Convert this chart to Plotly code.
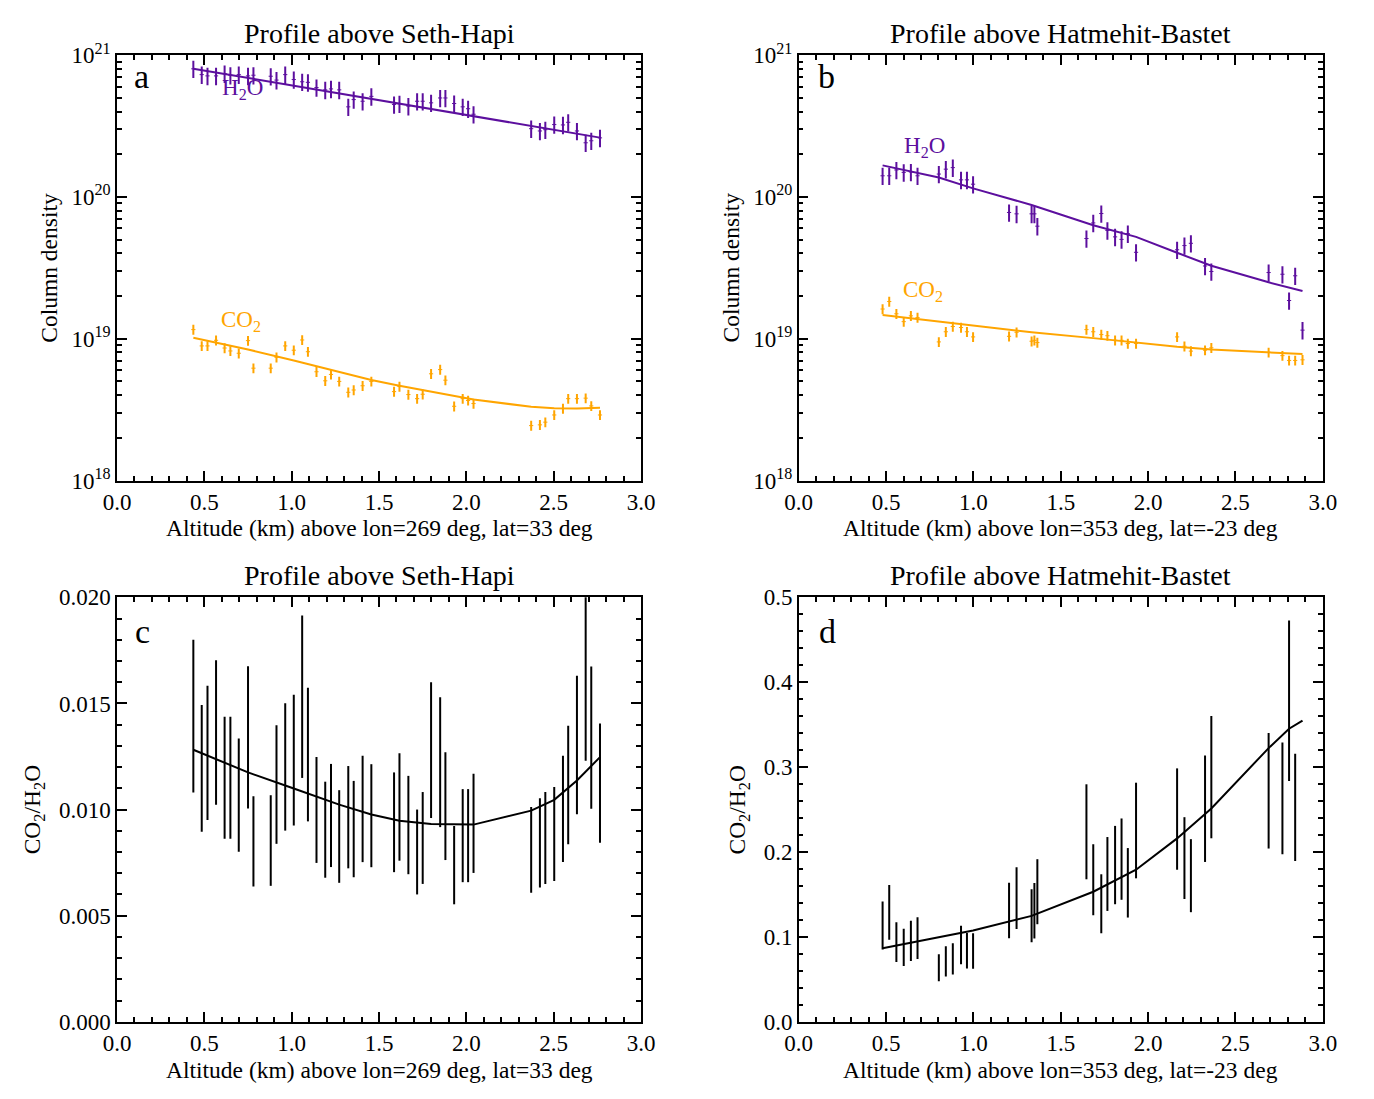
import plotly.graph_objects as go

# ---------------- data ----------------
# Panel a / c : Seth-Hapi profile
alt_a = [0.437, 0.485, 0.518, 0.567, 0.616, 0.649, 0.697, 0.750, 0.781, 0.880,
         0.913, 0.963, 1.012, 1.060, 1.093, 1.142, 1.192, 1.225, 1.272, 1.324,
         1.355, 1.406, 1.456, 1.586, 1.617, 1.668, 1.718, 1.750, 1.798, 1.850,
         1.880, 1.930, 1.979, 2.010, 2.041, 2.371, 2.421, 2.452, 2.503, 2.553,
         2.583, 2.633, 2.683, 2.715, 2.765]
h2o_a = [8.01e20, 7.29e20, 7.14e20, 7.14e20, 7.41e20, 7.22e20, 7.29e20, 7.14e20, 7.22e20, 7.10e20,
         6.67e20, 7.29e20, 6.73e20, 6.49e20, 6.43e20, 5.91e20, 5.69e20, 5.78e20, 5.69e20, 4.32e20,
         4.86e20, 4.73e20, 5.12e20, 4.49e20, 4.54e20, 4.37e20, 4.73e20, 4.73e20, 4.61e20, 4.99e20,
         4.99e20, 4.56e20, 4.32e20, 4.19e20, 3.83e20, 3.03e20, 2.92e20, 2.98e20, 3.24e20, 3.22e20,
         3.36e20, 2.92e20, 2.41e20, 2.49e20, 2.61e20]
co2_a = [1.16e19, 8.9e18, 8.9e18, 9.75e18, 8.6e18, 8.2e18, 7.9e18, 9.7e18, 6.2e18, 6.2e18,
         7.4e18, 8.9e18, 8.3e18, 9.8e18, 8.1e18, 5.85e18, 5.05e18, 5.6e18, 5.0e18, 4.19e18,
         4.35e18, 4.66e18, 5.0e18, 4.24e18, 4.6e18, 4.04e18, 3.78e18, 4.06e18, 5.66e18, 6.06e18,
         5.1e18, 3.34e18, 3.78e18, 3.67e18, 3.49e18, 2.44e18, 2.47e18, 2.58e18, 2.9e18, 3.22e18,
         3.78e18, 3.78e18, 3.81e18, 3.36e18, 2.9e18]
ratio_a = [0.0144, 0.01194, 0.01267, 0.01363, 0.0115, 0.0115, 0.01068, 0.0134, 0.0085, 0.00854,
           0.01118, 0.01201, 0.01233, 0.01532, 0.01259, 0.00998, 0.00905, 0.00972, 0.00873, 0.00964,
           0.00908, 0.01003, 0.00971, 0.0094, 0.01012, 0.00927, 0.008, 0.00866, 0.0128, 0.01223,
           0.01016, 0.00738, 0.00877, 0.00877, 0.00935, 0.0081, 0.00843, 0.00866, 0.00885, 0.01003,
           0.01116, 0.01304, 0.0164, 0.01339, 0.01124]

fit_alt_a = [0.437, 0.750, 1.012, 1.272, 1.456, 1.617, 1.798, 2.041, 2.371, 2.503, 2.633, 2.765]
fit_h2o_a = [8.02e20, 6.90e20, 6.09e20, 5.37e20, 4.91e20, 4.55e20, 4.17e20, 3.72e20, 3.17e20, 2.97e20, 2.79e20, 2.62e20]
fit_co2_a = [1.016e19, 8.40e18, 7.03e18, 5.81e18, 5.12e18, 4.66e18, 4.24e18, 3.73e18, 3.31e18, 3.24e18, 3.22e18, 3.26e18]
fit_ratio_a = [0.01282, 0.01175, 0.01099, 0.01023, 0.00977, 0.00947, 0.00932, 0.00929, 0.00995, 0.01046, 0.01137, 0.01247]

# Panel b / d : Hatmehit-Bastet profile
alt_b = [0.480, 0.518, 0.559, 0.601, 0.642, 0.680, 0.802, 0.842, 0.882, 0.929,
         0.963, 0.998, 1.204, 1.247, 1.333, 1.349, 1.366, 1.647, 1.686, 1.732,
         1.767, 1.811, 1.848, 1.884, 1.931, 2.166, 2.208, 2.245, 2.326, 2.362,
         2.690, 2.769, 2.807, 2.842, 2.884]
h2o_b = [1.41e20, 1.41e20, 1.55e20, 1.49e20, 1.50e20, 1.41e20, 1.45e20, 1.57e20, 1.61e20, 1.32e20,
         1.32e20, 1.23e20, 7.77e19, 7.6e19, 7.6e19, 7.6e19, 6.22e19, 5.09e19, 6.56e19, 7.64e19,
         5.81e19, 5.23e19, 5.02e19, 5.51e19, 4.07e19, 4.24e19, 4.54e19, 4.71e19, 3.26e19, 2.98e19,
         2.93e19, 2.85e19, 1.86e19, 2.78e19, 1.15e19]
co2_b = [1.62e19, 1.83e19, 1.5e19, 1.32e19, 1.45e19, 1.41e19, 9.5e18, 1.12e19, 1.22e19, 1.2e19,
         1.12e19, 1.03e19, 1.04e19, 1.11e19, 9.6e18, 9.75e18, 9.4e18, 1.16e19, 1.12e19, 1.07e19,
         1.05e19, 9.75e18, 9.75e18, 9.25e18, 9.25e18, 1.03e19, 8.85e18, 8.18e18, 8.3e18, 8.63e18,
         8.0e18, 7.6e18, 7.03e18, 7.03e18, 7.1e18]
alt_d = alt_b[:34]
ratio_b = [0.1134, 0.1289, 0.0937, 0.0876, 0.0953, 0.0985, 0.0637, 0.0711, 0.0741, 0.0905,
           0.0837, 0.0833, 0.131, 0.1455, 0.1249, 0.1308, 0.1532, 0.2238, 0.1673, 0.139,
           0.1741, 0.1846, 0.1916, 0.1637, 0.2253, 0.2388, 0.1928, 0.1721, 0.251, 0.2882,
           0.2721, 0.2631, 0.3782, 0.2527]

fit_alt_b = [0.480, 0.802, 0.998, 1.333, 1.686, 1.931, 2.166, 2.362, 2.690, 2.884]
fit_h2o_b = [1.67e20, 1.37e20, 1.15e20, 8.77e19, 6.32e19, 5.23e19, 4.04e19, 3.27e19, 2.50e19, 2.17e19]
fit_co2_b = [1.47e19, 1.32e19, 1.25e19, 1.11e19, 1.01e19, 9.34e18, 8.77e18, 8.40e18, 8.01e18, 7.80e18]
fit_alt_d = [0.480, 0.802, 0.998, 1.333, 1.686, 1.931, 2.166, 2.362, 2.690, 2.807, 2.884]
fit_ratio_b = [0.0867, 0.0992, 0.1076, 0.1247, 0.1532, 0.1791, 0.2160, 0.2513, 0.3224, 0.3452, 0.3548]

h2o_err_pct = 14
co2_err_pct = 8
ratio_err_pct = 25

x_ticks = [0.0, 0.5, 1.0, 1.5, 2.0, 2.5, 3.0]
log_ticks = [1e18, 1e19, 1e20, 1e21]
log_ticktext = ["10<sup>18</sup>", "10<sup>19</sup>", "10<sup>20</sup>", "10<sup>21</sup>"]

# ---------------- styling ----------------
PURPLE = "#5c0f9e"
ORANGE = "#ffa500"
BLACK = "#000000"
FONT = "Liberation Serif"
OFF = 8  # page body margin
W, H = 1374 - OFF, 1099 - OFF


def px_x(p):
    return (p - OFF) / W


def px_y(p):
    return 1 - (p - OFF) / H


fig = go.Figure()


def add_series(x, y, pct, color, xa, ya, center=True, thick=2):
    if center:
        marker = dict(symbol="line-ew", size=3, color=color, line=dict(color=color, width=1))
    else:
        marker = dict(size=1, color="rgba(0,0,0,0)")
    fig.add_trace(go.Scatter(
        x=x, y=y, mode="markers", xaxis=xa, yaxis=ya, showlegend=False,
        marker=marker,
        error_y=dict(type="percent", value=pct, color=color, thickness=thick, width=0),
    ))


def add_fit(x, y, color, xa, ya):
    fig.add_trace(go.Scatter(
        x=x, y=y, mode="lines", xaxis=xa, yaxis=ya, showlegend=False,
        line=dict(color=color, width=2),
    ))


# panel a
add_series(alt_a, h2o_a, h2o_err_pct, PURPLE, "x", "y")
add_series(alt_a, co2_a, co2_err_pct, ORANGE, "x", "y")
add_fit(fit_alt_a, fit_h2o_a, PURPLE, "x", "y")
add_fit(fit_alt_a, fit_co2_a, ORANGE, "x", "y")
# panel b
add_series(alt_b, h2o_b, h2o_err_pct, PURPLE, "x2", "y2")
add_series(alt_b, co2_b, co2_err_pct, ORANGE, "x2", "y2")
add_fit(fit_alt_b, fit_h2o_b, PURPLE, "x2", "y2")
add_fit(fit_alt_b, fit_co2_b, ORANGE, "x2", "y2")
# panel c
add_series(alt_a, ratio_a, ratio_err_pct, BLACK, "x3", "y3", center=False)
add_fit(fit_alt_a, fit_ratio_a, BLACK, "x3", "y3")
# panel d
add_series(alt_d, ratio_b, ratio_err_pct, BLACK, "x4", "y4", center=False)
add_fit(fit_alt_d, fit_ratio_b, BLACK, "x4", "y4")

tickfont = dict(family=FONT, size=23, color=BLACK)
common = dict(
    showline=True, linecolor=BLACK, linewidth=1.5, mirror="ticks",
    ticks="inside", ticklen=10, tickwidth=1.5, tickcolor=BLACK,
    showgrid=False, zeroline=False, tickfont=tickfont,
)


def xaxis(domain, anchor):
    return dict(domain=domain, anchor=anchor, range=[0, 3],
                tickvals=x_ticks, ticktext=["%.1f" % v for v in x_ticks],
                minor=dict(ticks="inside", ticklen=5, tickwidth=1.5, tickcolor=BLACK,
                           tick0=0, dtick=0.1, showgrid=False),
                **common)


minor_log = [float(m) * 10.0 ** e for e in (18, 19, 20) for m in range(2, 10)]


def ylog(domain, anchor):
    return dict(domain=domain, anchor=anchor, type="log", range=[18, 21],
                tickvals=log_ticks, ticktext=log_ticktext,
                minor=dict(ticks="inside", ticklen=5, tickwidth=1.5, tickcolor=BLACK,
                           tickvals=minor_log, showgrid=False),
                **common)


dx_left = [px_x(105), px_x(640)]
dx_right = [px_x(801), px_x(1336)]
dy_top = [px_y(477), px_y(40)]
dy_bot = [px_y(1033), px_y(597)]

c_ticks = [0.000, 0.005, 0.010, 0.015, 0.020]
d_ticks = [0.0, 0.1, 0.2, 0.3, 0.4, 0.5]

fig.update_layout(
    width=W, height=H, margin=dict(l=0, r=0, t=0, b=0),
    paper_bgcolor="white", plot_bgcolor="white",
    font=dict(family=FONT, color=BLACK),
    xaxis=xaxis(dx_left, "y"),
    yaxis=ylog(dy_top, "x"),
    xaxis2=xaxis(dx_right, "y2"),
    yaxis2=ylog(dy_top, "x2"),
    xaxis3=xaxis(dx_left, "y3"),
    yaxis3=dict(domain=dy_bot, anchor="x3", range=[0, 0.020],
                tickvals=c_ticks, ticktext=["%.3f" % v for v in c_ticks],
                minor=dict(ticks="inside", ticklen=5, tickwidth=1.5, tickcolor=BLACK,
                           tick0=0, dtick=0.001, showgrid=False),
                **common),
    xaxis4=xaxis(dx_right, "y4"),
    yaxis4=dict(domain=dy_bot, anchor="x4", range=[0, 0.5],
                tickvals=d_ticks, ticktext=["%.1f" % v for v in d_ticks],
                minor=dict(ticks="inside", ticklen=5, tickwidth=1.5, tickcolor=BLACK,
                           tick0=0, dtick=0.02, showgrid=False),
                **common),
)

ann = []


def txt(x, y, s, size, color=BLACK, angle=0, xanchor="center"):
    ann.append(dict(x=px_x(x), y=px_y(y), xref="paper", yref="paper", text=s,
                    showarrow=False, textangle=angle, xanchor=xanchor, yanchor="middle",
                    font=dict(family=FONT, size=size, color=color)))


# titles
txt(372.5, 18, "Profile above Seth-Hapi", 28)
txt(1068.5, 18, "Profile above Hatmehit-Bastet", 28)
txt(372.5, 575, "Profile above Seth-Hapi", 28)
txt(1068.5, 575, "Profile above Hatmehit-Bastet", 28)
# x titles
txt(372.5, 526, "Altitude (km) above lon=269 deg, lat=33 deg", 23.5)
txt(1068.5, 526, "Altitude (km) above lon=353 deg, lat=-23 deg", 23.5)
txt(372.5, 1083, "Altitude (km) above lon=269 deg, lat=33 deg", 23.5)
txt(1068.5, 1083, "Altitude (km) above lon=353 deg, lat=-23 deg", 23.5)
# y titles
txt(36, 258, "Column density", 23.5, angle=-90)
txt(732, 258, "Column density", 23.5, angle=-90)
txt(20, 815, "CO<sub>2</sub>/H<sub>2</sub>O", 23.5, angle=-90)
txt(740, 815, "CO<sub>2</sub>/H<sub>2</sub>O", 23.5, angle=-90)
# panel letters
txt(130, 62, "a", 34)
txt(829, 62, "b", 34)
txt(131, 632, "c", 34)
txt(830, 632, "d", 34)
# species labels
txt(233, 75, "H<sub>2</sub>O", 23, PURPLE)
txt(232, 313, "CO<sub>2</sub>", 23, ORANGE)
txt(929, 134, "H<sub>2</sub>O", 23, PURPLE)
txt(928, 282, "CO<sub>2</sub>", 23, ORANGE)

fig.update_layout(annotations=ann)

fig.write_html("out.html")
